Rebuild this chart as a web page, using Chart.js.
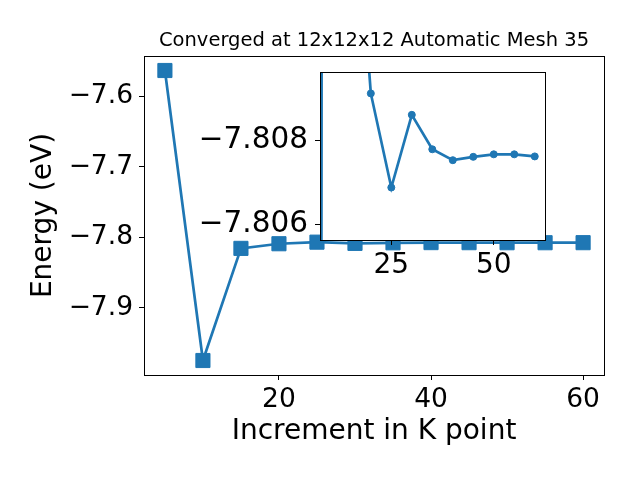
<!DOCTYPE html>
<html>
<head>
<meta charset="utf-8">
<script src="https://cdn.jsdelivr.net/npm/chart.js@4"></script>
<style>
  body { margin: 0; background: #fff; }
  #wrap { position: relative; width: 640px; height: 480px; }
  #mainChart { position: absolute; left: 0; top: 0; }
  #insetChart { position: absolute; left: 170px; top: 60px; }
</style>
</head>
<body>
<div id="wrap">
  <canvas id="mainChart" width="640" height="480"></canvas>
  <canvas id="insetChart" width="390" height="230"></canvas>
</div>
<script>
// dados
const kPoints = [5, 10, 15, 20, 25, 30, 35, 40, 45, 50, 55, 60];
const energy = [-7.563, -7.975, -7.8157, -7.80911, -7.80687, -7.80860, -7.80778, -7.80752, -7.80760, -7.80766, -7.80766, -7.80761];

const mainXTicks = [20, 40, 60];
const mainYTicks = [-7.9, -7.8, -7.7, -7.6];
const insetXTicks = [25, 50];
const insetYTicks = [-7.808, -7.806];

const titleText = 'Converged at 12x12x12 Automatic Mesh 35';
const xLabel = 'Increment in K point';
const yLabel = 'Energy (eV)';

const blue = '#1f77b4';
const font = 'DejaVu Sans';
const points = kPoints.map((k, i) => ({ x: k, y: energy[i] }));

function minusSign(s) {
    return s.replace('-', '\u2212');
}

// moldura completa em volta da área do gráfico
const frame = {
    id: 'frame',
    beforeDatasetsDraw(chart, args, opts) {
        if (opts.fill) {
            const a = chart.chartArea;
            chart.ctx.save();
            chart.ctx.fillStyle = '#fff';
            chart.ctx.fillRect(a.left, a.top, a.right - a.left, a.bottom - a.top);
            chart.ctx.restore();
        }
    },
    afterDraw(chart) {
        const a = chart.chartArea;
        const ctx = chart.ctx;
        ctx.save();
        ctx.strokeStyle = '#000';
        ctx.lineWidth = 1;
        ctx.strokeRect(Math.round(a.left) + 0.5, Math.round(a.top) + 0.5,
            Math.round(a.right - a.left), Math.round(a.bottom - a.top));
        ctx.restore();
    }
};

// textos do título e dos eixos
const labels = {
    id: 'labels',
    afterDraw(chart) {
        const a = chart.chartArea;
        const ctx = chart.ctx;
        const cx = (a.left + a.right) / 2;
        ctx.save();
        ctx.fillStyle = '#000';
        ctx.textAlign = 'center';
        ctx.textBaseline = 'middle';
        ctx.font = '19.5px "' + font + '"';
        ctx.fillText(titleText, cx, 41);
        ctx.font = '28px "' + font + '"';
        ctx.fillText(xLabel, cx, 432);
        ctx.translate(44, (a.top + a.bottom) / 2);
        ctx.rotate(-Math.PI / 2);
        ctx.fillText(yLabel, 0, 0);
        ctx.restore();
    }
};

function axisStyle(size, pad) {
    return {
        grid: { drawOnChartArea: false, drawTicks: true, tickLength: 5, color: '#000', lineWidth: 1 },
        border: { display: true, color: '#000', width: 1 },
        ticks: { color: '#000', padding: pad, font: { family: font, size: size } }
    };
}

function noPad(s) {
    s.paddingTop = 0;
    s.paddingBottom = 0;
    s.paddingLeft = 0;
    s.paddingRight = 0;
}

const mainX = axisStyle(26.5, 4);
const mainY = axisStyle(26.5, 6);
mainY.ticks.callback = v => minusSign(v.toFixed(1));

new Chart(document.getElementById('mainChart'), {
    type: 'line',
    data: {
        datasets: [{
            data: points,
            borderColor: blue,
            backgroundColor: blue,
            borderWidth: 2.7,
            pointStyle: 'rect',
            pointRadius: 10,
            pointBorderWidth: 1,
            tension: 0
        }]
    },
    options: {
        responsive: false,
        animation: false,
        devicePixelRatio: 1,
        layout: { padding: { left: 0, top: 56, right: 36, bottom: 0 } },
        plugins: { legend: { display: false }, tooltip: { enabled: false }, frame: { fill: false } },
        scales: {
            x: Object.assign(mainX, {
                type: 'linear', min: 2.25, max: 62.75,
                afterBuildTicks: s => { s.ticks = mainXTicks.map(v => ({ value: v })); },
                afterFit: s => { noPad(s); s.height = 105; }
            }),
            y: Object.assign(mainY, {
                type: 'linear', min: -7.9956, max: -7.5424,
                afterBuildTicks: s => { s.ticks = mainYTicks.map(v => ({ value: v })); },
                afterFit: s => { noPad(s); s.width = 144; }
            })
        }
    },
    plugins: [frame, labels]
});

const insetX = axisStyle(28, 4);
const insetY = axisStyle(29.5, 7);
insetY.ticks.callback = v => minusSign(v.toFixed(3));

new Chart(document.getElementById('insetChart'), {
    type: 'line',
    data: {
        datasets: [{
            data: points,
            borderColor: blue,
            backgroundColor: blue,
            borderWidth: 2.7,
            pointStyle: 'circle',
            pointRadius: 3.5,
            pointBorderWidth: 1,
            tension: 0,
            clip: 0
        }]
    },
    options: {
        responsive: false,
        animation: false,
        devicePixelRatio: 1,
        layout: { padding: { left: 0, top: 12, right: 15, bottom: 0 } },
        plugins: { legend: { display: false }, tooltip: { enabled: false }, frame: { fill: true } },
        scales: {
            x: Object.assign(insetX, {
                type: 'linear', min: 7.6, max: 62.5,
                afterBuildTicks: s => { s.ticks = insetXTicks.map(v => ({ value: v })); },
                afterFit: s => { noPad(s); s.height = 50; }
            }),
            y: Object.assign(insetY, {
                type: 'linear', min: -7.80962, max: -7.80562, reverse: true,
                afterBuildTicks: s => { s.ticks = insetYTicks.map(v => ({ value: v })); },
                afterFit: s => { noPad(s); s.width = 150; }
            })
        }
    },
    plugins: [frame]
});
</script>
</body>
</html>
